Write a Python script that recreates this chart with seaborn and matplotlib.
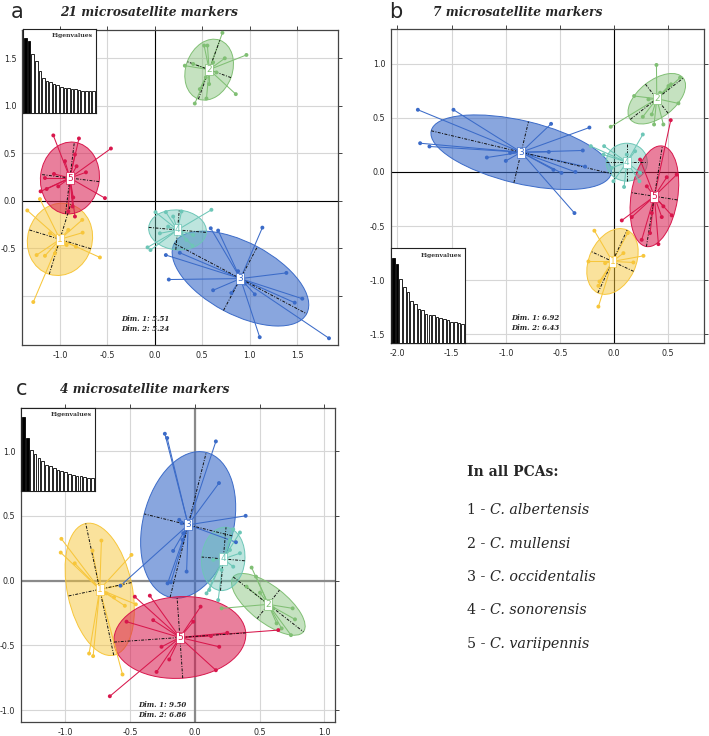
import numpy as np
import pandas as pd
import matplotlib
matplotlib.use("Agg")
import matplotlib.pyplot as plt
import seaborn as sns
from matplotlib.patches import Ellipse
from matplotlib.collections import LineCollection

sns.set_style("white")
plt.rcParams["font.family"] = ["DejaVu Sans"]

# ---------------- data ----------------
groups = ["1", "2", "3", "4", "5"]
group_colors = ["#F7C63B", "#80BF74", "#3B6BC8", "#6DC6B7", "#D8174C"]
fill_alpha = [0.5, 0.45, 0.6, 0.45, 0.55]

species = ["C. albertensis", "C. mullensi", "C. occidentalis", "C. sonorensis", "C. variipennis"]

# Panel a: 21 microsatellite markers
a_g1_x = [-1.211, -1.344, -0.765, -0.761, -1.158, -1.246, -0.579, -1.281, -0.832, -1.105, -0.912, -1.053, -0.930]
a_g1_y = [0.018, -0.102, -0.201, -0.336, -0.580, -0.572, -0.597, -1.067, -0.484, -0.343, -0.307, -0.555, -0.466]
a_g2_x = [0.712, 0.965, 0.316, 0.519, 0.554, 0.737, 0.404, 0.537, 0.572, 0.474, 0.421, 0.544, 0.853, 0.649, 0.614]
a_g2_y = [1.770, 1.537, 1.424, 1.636, 1.636, 1.502, 1.442, 1.300, 1.230, 1.177, 1.025, 1.078, 1.124, 1.353, 1.459]
a_g3_x = [0.589, 0.667, 1.133, 1.386, 0.614, 0.807, 1.053, 1.474, 1.554, 1.105, 1.835, 0.877, 0.116, 0.263, 0.147, 0.947]
a_g3_y = [-0.290, -0.314, -0.283, -0.760, -0.943, -0.972, -0.986, -1.074, -1.032, -1.438, -1.449, -0.742, -0.572, -0.548, -0.830, -0.873]
a_g4_x = [0.007, 0.116, 0.281, 0.596, -0.077, -0.046, 0.396, 0.333, 0.281, 0.193, 0.053, 0.404, 0.140]
a_g4_y = [-0.120, -0.120, -0.113, -0.095, -0.491, -0.519, -0.473, -0.413, -0.343, -0.166, -0.343, -0.360, -0.272]
a_g5_x = [-1.070, -0.800, -0.463, -0.842, -0.947, -0.726, -1.158, -1.063, -1.140, -1.204, -0.526, -0.860, -0.912, -0.842, -0.867, -1.018, -0.825]
a_g5_y = [0.689, 0.657, 0.551, 0.488, 0.417, 0.300, 0.240, 0.283, 0.124, 0.099, 0.028, 0.035, -0.113, -0.166, -0.060, 0.152, 0.364]
a_cx = [-1.00, 0.572, 0.902, 0.239, -0.895]
a_cy = [-0.406, 1.382, -0.820, -0.307, 0.240]
a_semi_major = [0.385, 0.33, 0.79, 0.305, 0.38]
a_semi_minor = [0.34, 0.245, 0.38, 0.21, 0.31]
a_angle = [73, 70, -28, -5, 83]
a_eig = [227, 217, 180, 157, 127, 107, 97, 95, 87, 85, 80, 77, 75, 73, 72, 70, 68, 67, 67, 66]
a_dims = ["Dim. 1: 5.51", "Dim. 2: 5.24"]

# Panel b: 7 microsatellite markers
b_g1_x = [-0.182, -0.237, -0.135, -0.145, -0.145, 0.271, 0.178, 0.126, -0.083, 0.086]
b_g1_y = [-0.543, -0.827, -1.012, -1.052, -1.244, -0.775, -0.836, -0.565, -0.843, -0.750]
b_g2_x = [0.391, 0.609, 0.526, 0.185, 0.594, 0.265, 0.369, 0.455, 0.348, 0.502, -0.031, 0.425, 0.317]
b_g2_y = [0.988, 0.870, 0.809, 0.701, 0.633, 0.509, 0.438, 0.438, 0.531, 0.793, 0.417, 0.731, 0.670]
b_g3_x = [-1.812, -1.483, -0.582, -0.228, -1.791, -1.705, -1.175, -1.000, -0.603, -0.289, -0.268, -0.560, -0.486, -0.357, -0.366, -0.960]
b_g3_y = [0.574, 0.574, 0.444, 0.410, 0.265, 0.235, 0.133, 0.102, 0.185, 0.198, 0.049, 0.019, -0.009, 0.000, -0.380, 0.176]
b_g4_x = [0.265, -0.092, -0.215, 0.117, 0.194, 0.240, 0.234, 0.092, -0.006, -0.022, 0.148, -0.098]
b_g4_y = [0.346, 0.238, 0.238, 0.160, 0.191, -0.009, -0.086, -0.139, -0.086, 0.037, 0.052, 0.160]
b_g5_x = [0.523, 0.240, 0.071, 0.163, 0.255, 0.332, 0.409, 0.440, 0.532, 0.486, 0.578, 0.455, 0.348, 0.302]
b_g5_y = [0.478, 0.114, -0.448, -0.417, -0.627, -0.565, -0.667, -0.417, -0.401, -0.049, -0.025, -0.318, -0.380, -0.133]
b_cx = [-0.015, 0.394, -0.858, 0.117, 0.372]
b_cy = [-0.827, 0.676, 0.182, 0.090, -0.225]
b_semi_major = [0.32, 0.31, 0.854, 0.19, 0.47]
b_semi_minor = [0.215, 0.17, 0.29, 0.175, 0.215]
b_angle = [65, 38, -13.4, 0, 81]
b_eig = [256, 237, 194, 169, 154, 126, 119, 104, 99, 89, 86, 84, 79, 76, 72, 68, 64, 62, 59, 57]
b_dims = ["Dim. 1: 6.92", "Dim. 2: 6.43"]

# Panel c: 4 microsatellite markers
c_g1_x = [-1.031, -1.036, -0.928, -0.722, -0.791, -0.490, -0.567, -0.624, -0.541, -0.456, -0.817, -0.786, -0.559, -0.683]
c_g1_y = [0.323, 0.217, 0.134, 0.310, 0.232, 0.199, -0.034, -0.129, -0.194, -0.183, -0.563, -0.583, -0.725, -0.098]
c_g2_x = [0.438, 0.472, 0.206, 0.399, 0.503, 0.755, 0.773, 0.742, 0.670, 0.631, 0.606]
c_g2_y = [0.101, 0.031, -0.214, -0.046, -0.093, -0.214, -0.299, -0.421, -0.369, -0.330, -0.214]
c_g3_x = [-0.232, -0.214, 0.162, 0.186, 0.392, 0.317, -0.121, -0.103, -0.168, -0.095, -0.064, -0.211, -0.186, -0.575, -0.090]
c_g3_y = [1.135, 1.102, 1.076, 0.754, 0.501, 0.297, 0.470, 0.444, 0.230, 0.315, 0.070, -0.021, -0.013, -0.039, 0.366]
c_g4_x = [0.296, 0.348, 0.271, 0.348, 0.111, 0.180, 0.090, 0.206, 0.142, 0.271, 0.296]
c_g4_y = [0.397, 0.372, 0.237, 0.212, -0.072, -0.150, -0.098, 0.083, 0.160, 0.315, 0.108]
c_g5_x = [-0.464, -0.348, 0.044, -0.528, -0.322, 0.250, 0.644, 0.124, -0.258, 0.188, -0.198, -0.296, 0.162, -0.657, -0.013]
c_g5_y = [-0.124, -0.116, -0.201, -0.317, -0.305, -0.403, -0.382, -0.428, -0.511, -0.511, -0.609, -0.705, -0.692, -0.893, -0.317]
c_cx = [-0.735, 0.567, -0.052, 0.219, -0.116]
c_cy = [-0.067, -0.183, 0.431, 0.168, -0.439]
c_semi_major = [0.52, 0.344, 0.577, 0.245, 0.51]
c_semi_minor = [0.25, 0.14, 0.35, 0.167, 0.315]
c_angle = [102, -38, 76, 85, 4]
c_eig = [225, 160, 125, 113, 100, 90, 80, 75, 70, 65, 60, 57, 53, 50, 47, 45, 43, 40, 40]
c_dims = ["Dim. 1: 9.50", "Dim. 2: 6.86"]

# ---------------- figure ----------------
fig = plt.figure(figsize=(7.09, 7.36), dpi=100)


def make_df(xs, ys):
    rows = []
    for g, x, y in zip(groups, xs, ys):
        for xi, yi in zip(x, y):
            rows.append((g, xi, yi))
    return pd.DataFrame(rows, columns=["group", "x", "y"])


def fmt(t):
    return "" if t is None else f"{t:.1f}"


def draw_panel(ax, df, cx, cy, sa, sb, ang, xlim, ylim, xticks, yticks, ylabels,
               dims, dims_xy, zero_color="black", zero_lw=0.8):
    ax.set_xlim(*xlim)
    ax.set_ylim(*ylim)
    ax.set_xticks(xticks)
    ax.set_yticks(yticks)
    ax.set_xticklabels([fmt(t) for t in xticks])
    ax.set_yticklabels(ylabels)
    ax.grid(True, color="#d6d6d6", lw=0.8, zorder=0)
    ax.set_axisbelow(True)
    ax.axhline(0, color=zero_color, lw=zero_lw, zorder=1)
    ax.axvline(0, color=zero_color, lw=zero_lw, zorder=1)
    for i, g in enumerate(groups):
        col = group_colors[i]
        e = Ellipse((cx[i], cy[i]), width=2 * sa[i], height=2 * sb[i], angle=ang[i],
                    facecolor=col, alpha=fill_alpha[i], edgecolor="none", zorder=2 + i * 0.1)
        ax.add_patch(e)
        e2 = Ellipse((cx[i], cy[i]), width=2 * sa[i], height=2 * sb[i], angle=ang[i],
                     facecolor="none", edgecolor=col, lw=0.7, zorder=2 + i * 0.1)
        ax.add_patch(e2)
        sub = df[df["group"] == g]
        segs = [[(cx[i], cy[i]), (x, y)] for x, y in zip(sub["x"], sub["y"])]
        ax.add_collection(LineCollection(segs, colors=col, linewidths=0.75, zorder=3 + i * 0.1))
        t = np.deg2rad(ang[i])
        ux, uy = np.cos(t), np.sin(t)
        vx, vy = -np.sin(t), np.cos(t)
        for (dx, dy, r) in [(ux, uy, sa[i]), (vx, vy, sb[i])]:
            ax.plot([cx[i] - r * dx, cx[i] + r * dx], [cy[i] - r * dy, cy[i] + r * dy],
                    color="#111111", lw=0.7, dashes=(3, 1.5, 1, 1.5), zorder=4 + i * 0.1)
    sns.scatterplot(data=df, x="x", y="y", hue="group", palette=group_colors,
                    hue_order=groups, s=8, linewidth=0, legend=False, ax=ax, zorder=5)
    for i, g in enumerate(groups):
        ax.text(cx[i], cy[i], g, color=group_colors[i], fontsize=6.5, ha="center", va="center",
                zorder=8, bbox=dict(boxstyle="square,pad=0.12", fc="white", ec=group_colors[i], lw=0.5))
    ax.set_xlabel("")
    ax.set_ylabel("")
    ax.tick_params(direction="out", length=3, width=0.7, color="#444444",
                   top=True, right=True, bottom=False, left=False,
                   labeltop=False, labelright=False, labelbottom=True, labelleft=True,
                   labelsize=5.8, pad=1)
    for sp in ax.spines.values():
        sp.set_color("#444444")
        sp.set_linewidth(0.9)
    ax.text(dims_xy[0], dims_xy[1], dims[0] + "\n" + dims[1], fontsize=5, family="DejaVu Serif",
            style="italic", weight="bold", ha="center", va="center", linespacing=1.3, zorder=9)


def draw_inset(rect, eig):
    ins = fig.add_axes(rect)
    n = len(eig)
    sns.barplot(x=list(range(n)), y=eig, color="white", edgecolor="black", linewidth=0.6,
                width=0.72, ax=ins, zorder=3)
    for k, p in enumerate(ins.patches):
        if k < 2:
            p.set_facecolor("black")
    ins.set_xlim(-0.7, n - 0.3)
    ins.set_ylim(0, max(eig) * 1.12)
    ins.set_xticks([])
    ins.set_yticks([])
    ins.set_xlabel("")
    ins.set_ylabel("")
    ins.set_facecolor("white")
    for sp in ins.spines.values():
        sp.set_color("#222222")
        sp.set_linewidth(0.8)
    ins.text(0.96, 0.95, "Eigenvalues", transform=ins.transAxes, ha="right", va="top",
             fontsize=4.4, family="DejaVu Serif", weight="bold", color="#333333")


W, H = 709.0, 736.0


def rect(x0, y0, x1, y1):
    return [x0 / W, 1 - y1 / H, (x1 - x0) / W, (y1 - y0) / H]


# Panel a
ax_a = fig.add_axes(rect(22, 30, 338, 345))
draw_panel(ax_a, make_df([a_g1_x, a_g2_x, a_g3_x, a_g4_x, a_g5_x], [a_g1_y, a_g2_y, a_g3_y, a_g4_y, a_g5_y]),
           a_cx, a_cy, a_semi_major, a_semi_minor, a_angle,
           (-1.4, 1.93), (-1.52, 1.8), [-1.0, -0.5, 0.0, 0.5, 1.0, 1.5],
           [-1.0, -0.5, 0.0, 0.5, 1.0, 1.5], ["", "-0.5", "0.0", "0.5", "1.0", "1.5"],
           a_dims, (-0.1, -1.3))
draw_inset(rect(23, 29, 96, 113), a_eig)

# Panel b
ax_b = fig.add_axes(rect(391, 29, 704, 343))
draw_panel(ax_b, make_df([b_g1_x, b_g2_x, b_g3_x, b_g4_x, b_g5_x], [b_g1_y, b_g2_y, b_g3_y, b_g4_y, b_g5_y]),
           b_cx, b_cy, b_semi_major, b_semi_minor, b_angle,
           (-2.06, 0.83), (-1.58, 1.32), [-2.0, -1.5, -1.0, -0.5, 0.0, 0.5],
           [-1.5, -1.0, -0.5, 0.0, 0.5, 1.0], ["-1.5", "-1.0", "-0.5", "0.0", "0.5", "1.0"],
           b_dims, (-0.73, -1.395))
draw_inset(rect(391, 248, 465, 343), b_eig)

# Panel c
ax_c = fig.add_axes(rect(21, 408, 335, 722))
draw_panel(ax_c, make_df([c_g1_x, c_g2_x, c_g3_x, c_g4_x, c_g5_x], [c_g1_y, c_g2_y, c_g3_y, c_g4_y, c_g5_y]),
           c_cx, c_cy, c_semi_major, c_semi_minor, c_angle,
           (-1.343, 1.082), (-1.092, 1.334), [-1.0, -0.5, 0.0, 0.5, 1.0],
           [-1.0, -0.5, 0.0, 0.5, 1.0], ["-1.0", "-0.5", "0.0", "0.5", "1.0"],
           c_dims, (-0.25, -1.0), zero_color="#8a8a8a", zero_lw=1.6)
draw_inset(rect(21, 408, 95, 491), c_eig)

# Titles and panel letters
title_kw = dict(family="DejaVu Serif", weight="bold", style="italic", fontsize=8.8, va="center", ha="left")
fig.text(60 / W, 1 - 12.5 / H, "21 microsatellite markers", **title_kw)
fig.text(433 / W, 1 - 12 / H, "7 microsatellite markers", **title_kw)
fig.text(60 / W, 1 - 389 / H, "4 microsatellite markers", **title_kw)
letter_kw = dict(fontsize=15, va="center", ha="left", family="DejaVu Sans")
fig.text(11 / W, 1 - 12 / H, "a", **letter_kw)
fig.text(389 / W, 1 - 12 / H, "b", **letter_kw)
fig.text(16 / W, 1 - 389 / H, "c", **letter_kw)

# Legend text
fig.text(467 / W, 1 - 476 / H, "In all PCAs:", family="DejaVu Serif", weight="bold", fontsize=10,
         va="baseline", ha="left")
for i, g in enumerate(groups):
    yb = 1 - (514 + i * 33.5) / H
    t1 = fig.text(467 / W, yb, f"{g} - ", family="DejaVu Serif", fontsize=10.3, va="baseline", ha="left")
    ax_c.annotate(species[i], xy=(1, 0), xycoords=t1, xytext=(0, 0), textcoords="offset points",
                  family="DejaVu Serif", style="italic", fontsize=10.3, va="bottom", ha="left",
                  annotation_clip=False)

fig.savefig("out.png", dpi=100)
